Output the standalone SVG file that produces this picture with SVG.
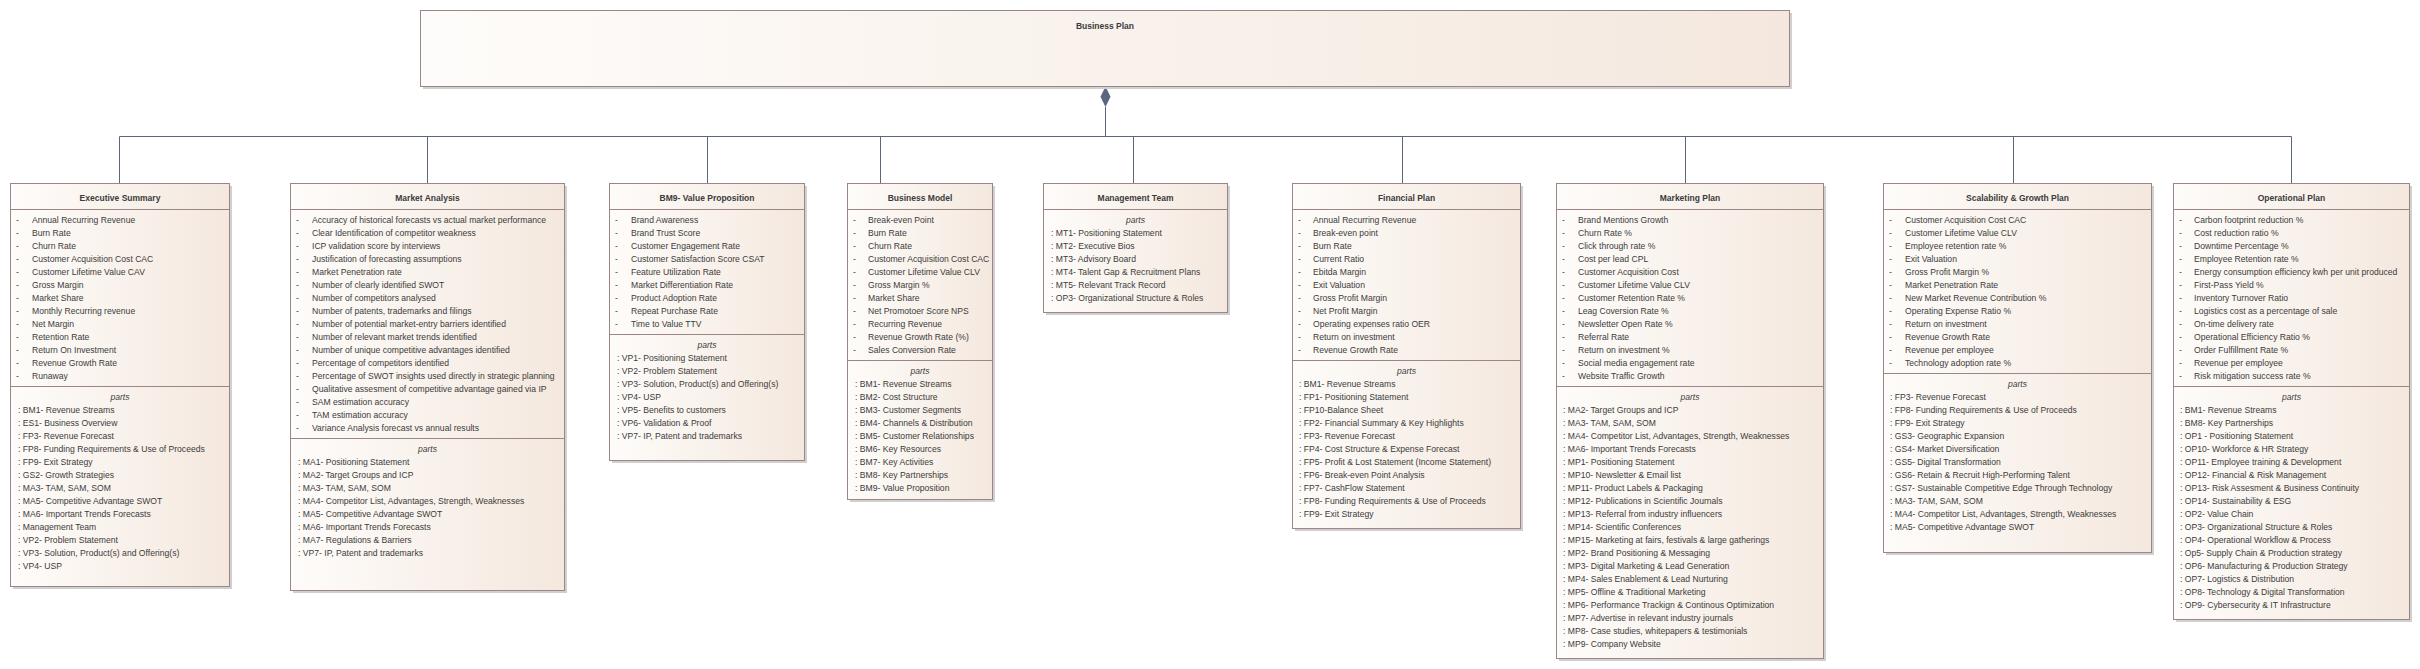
<svg xmlns="http://www.w3.org/2000/svg" width="2420" height="669" viewBox="0 0 2420 669">
<defs>
<linearGradient id="g" x1="0" y1="0" x2="1" y2="0">
<stop offset="0" stop-color="#fefcfa"/>
<stop offset="1" stop-color="#f4e8de"/>
</linearGradient>
</defs>
<style>
.box{fill:url(#g);stroke:#9c8585;stroke-width:1}
.sh{fill:#d0d0d0}
.sep{stroke:#9c8585;stroke-width:1}
.t{font-family:"Liberation Sans",Arial,sans-serif;font-size:8.6px;fill:#3b3b3b}
.h{font-weight:bold;text-anchor:middle;font-size:8.5px}
.p{font-style:italic;text-anchor:middle}
.c{stroke:#5b6680;stroke-width:1;fill:none}
.d{fill:#5b6680}
</style>
<rect width="2420" height="669" fill="#ffffff"/>

<g id="connectors">
<line class="c" x1="1105.5" y1="107" x2="1105.5" y2="136.5"/>
<line class="c" x1="119.5" y1="136.5" x2="2291.5" y2="136.5"/>
<line class="c" x1="119.5" y1="136.5" x2="119.5" y2="183"/>
<line class="c" x1="427.5" y1="136.5" x2="427.5" y2="183"/>
<line class="c" x1="707.5" y1="136.5" x2="707.5" y2="183"/>
<line class="c" x1="880.5" y1="136.5" x2="880.5" y2="183"/>
<line class="c" x1="1133.5" y1="136.5" x2="1133.5" y2="183"/>
<line class="c" x1="1402.5" y1="136.5" x2="1402.5" y2="183"/>
<line class="c" x1="1685.5" y1="136.5" x2="1685.5" y2="183"/>
<line class="c" x1="2013.5" y1="136.5" x2="2013.5" y2="183"/>
<line class="c" x1="2291.5" y1="136.5" x2="2291.5" y2="183"/>
<polygon class="d" points="1105.5,86.5 1110.5,96.8 1105.5,107 1100.5,96.8"/>
</g>

<g id="business-plan">
<rect class="sh" x="423" y="13" width="1369" height="76"/>
<rect class="box" x="420.5" y="10.5" width="1369" height="76"/>
<text class="t h" x="1105" y="29">Business Plan</text>
</g>

<g id="executive-summary">
<rect class="sh" x="13" y="186" width="219" height="403"/>
<rect class="box" x="10.5" y="183.5" width="219" height="403"/>
<line class="sep" x1="10.5" y1="209.5" x2="229.5" y2="209.5"/>
<line class="sep" x1="10.5" y1="386.5" x2="229.5" y2="386.5"/>
<text class="t h" x="120" y="201">Executive Summary</text>
<text class="t" y="223"><tspan x="16">-</tspan><tspan x="16" dy="13">-</tspan><tspan x="16" dy="13">-</tspan><tspan x="16" dy="13">-</tspan><tspan x="16" dy="13">-</tspan><tspan x="16" dy="13">-</tspan><tspan x="16" dy="13">-</tspan><tspan x="16" dy="13">-</tspan><tspan x="16" dy="13">-</tspan><tspan x="16" dy="13">-</tspan><tspan x="16" dy="13">-</tspan><tspan x="16" dy="13">-</tspan><tspan x="16" dy="13">-</tspan></text>
<text class="t" y="223"><tspan x="32">Annual Recurring Revenue</tspan><tspan x="32" dy="13">Burn Rate</tspan><tspan x="32" dy="13">Churn Rate</tspan><tspan x="32" dy="13">Customer Acquisition Cost CAC</tspan><tspan x="32" dy="13">Customer Lifetime Value CAV</tspan><tspan x="32" dy="13">Gross Margin</tspan><tspan x="32" dy="13">Market Share</tspan><tspan x="32" dy="13">Monthly Recurring revenue</tspan><tspan x="32" dy="13">Net Margin</tspan><tspan x="32" dy="13">Retention Rate</tspan><tspan x="32" dy="13">Return On Investment</tspan><tspan x="32" dy="13">Revenue Growth Rate</tspan><tspan x="32" dy="13">Runaway</tspan></text>
<text class="t p" x="120" y="400">parts</text>
<text class="t" y="413"><tspan x="18">: BM1- Revenue Streams</tspan><tspan x="18" dy="13">: ES1- Business Overview</tspan><tspan x="18" dy="13">: FP3- Revenue Forecast</tspan><tspan x="18" dy="13">: FP8- Funding Requirements &amp; Use of Proceeds</tspan><tspan x="18" dy="13">: FP9- Exit Strategy</tspan><tspan x="18" dy="13">: GS2- Growth Strategies</tspan><tspan x="18" dy="13">: MA3- TAM, SAM, SOM</tspan><tspan x="18" dy="13">: MA5- Competitive Advantage SWOT</tspan><tspan x="18" dy="13">: MA6- Important Trends Forecasts</tspan><tspan x="18" dy="13">: Management Team</tspan><tspan x="18" dy="13">: VP2- Problem Statement</tspan><tspan x="18" dy="13">: VP3- Solution, Product(s) and Offering(s)</tspan><tspan x="18" dy="13">: VP4- USP</tspan></text>
</g>

<g id="market-analysis">
<rect class="sh" x="293" y="186" width="274" height="407"/>
<rect class="box" x="290.5" y="183.5" width="274" height="407"/>
<line class="sep" x1="290.5" y1="209.5" x2="564.5" y2="209.5"/>
<line class="sep" x1="290.5" y1="438.5" x2="564.5" y2="438.5"/>
<text class="t h" x="427.5" y="201">Market Analysis</text>
<text class="t" y="223"><tspan x="296">-</tspan><tspan x="296" dy="13">-</tspan><tspan x="296" dy="13">-</tspan><tspan x="296" dy="13">-</tspan><tspan x="296" dy="13">-</tspan><tspan x="296" dy="13">-</tspan><tspan x="296" dy="13">-</tspan><tspan x="296" dy="13">-</tspan><tspan x="296" dy="13">-</tspan><tspan x="296" dy="13">-</tspan><tspan x="296" dy="13">-</tspan><tspan x="296" dy="13">-</tspan><tspan x="296" dy="13">-</tspan><tspan x="296" dy="13">-</tspan><tspan x="296" dy="13">-</tspan><tspan x="296" dy="13">-</tspan><tspan x="296" dy="13">-</tspan></text>
<text class="t" y="223"><tspan x="312">Accuracy of historical forecasts vs actual market performance</tspan><tspan x="312" dy="13">Clear Identification of competitor weakness</tspan><tspan x="312" dy="13">ICP validation score by interviews</tspan><tspan x="312" dy="13">Justification of forecasting assumptions</tspan><tspan x="312" dy="13">Market Penetration rate</tspan><tspan x="312" dy="13">Number of clearly identified SWOT</tspan><tspan x="312" dy="13">Number of competitors analysed</tspan><tspan x="312" dy="13">Number of patents, trademarks and filings</tspan><tspan x="312" dy="13">Number of potential market-entry barriers identified</tspan><tspan x="312" dy="13">Number of relevant market trends identified</tspan><tspan x="312" dy="13">Number of unique competitive advantages identified</tspan><tspan x="312" dy="13">Percentage of competitors identified</tspan><tspan x="312" dy="13">Percentage of SWOT insights used directly in strategic planning</tspan><tspan x="312" dy="13">Qualitative assesment of competitive advantage gained via IP</tspan><tspan x="312" dy="13">SAM estimation accuracy</tspan><tspan x="312" dy="13">TAM estimation accuracy</tspan><tspan x="312" dy="13">Variance Analysis forecast vs annual results</tspan></text>
<text class="t p" x="427.5" y="452">parts</text>
<text class="t" y="465"><tspan x="298">: MA1- Positioning Statement</tspan><tspan x="298" dy="13">: MA2- Target Groups and ICP</tspan><tspan x="298" dy="13">: MA3- TAM, SAM, SOM</tspan><tspan x="298" dy="13">: MA4- Competitor List, Advantages, Strength, Weaknesses</tspan><tspan x="298" dy="13">: MA5- Competitive Advantage SWOT</tspan><tspan x="298" dy="13">: MA6- Important Trends Forecasts</tspan><tspan x="298" dy="13">: MA7- Regulations &amp; Barriers</tspan><tspan x="298" dy="13">: VP7- IP, Patent and trademarks</tspan></text>
</g>

<g id="bm9-value-proposition">
<rect class="sh" x="612" y="186" width="195" height="277"/>
<rect class="box" x="609.5" y="183.5" width="195" height="277"/>
<line class="sep" x1="609.5" y1="209.5" x2="804.5" y2="209.5"/>
<line class="sep" x1="609.5" y1="334.5" x2="804.5" y2="334.5"/>
<text class="t h" x="707" y="201">BM9- Value Proposition</text>
<text class="t" y="223"><tspan x="615">-</tspan><tspan x="615" dy="13">-</tspan><tspan x="615" dy="13">-</tspan><tspan x="615" dy="13">-</tspan><tspan x="615" dy="13">-</tspan><tspan x="615" dy="13">-</tspan><tspan x="615" dy="13">-</tspan><tspan x="615" dy="13">-</tspan><tspan x="615" dy="13">-</tspan></text>
<text class="t" y="223"><tspan x="631">Brand Awareness</tspan><tspan x="631" dy="13">Brand Trust Score</tspan><tspan x="631" dy="13">Customer Engagement Rate</tspan><tspan x="631" dy="13">Customer Satisfaction Score CSAT</tspan><tspan x="631" dy="13">Feature Utilization Rate</tspan><tspan x="631" dy="13">Market Differentiation Rate</tspan><tspan x="631" dy="13">Product Adoption Rate</tspan><tspan x="631" dy="13">Repeat Purchase Rate</tspan><tspan x="631" dy="13">Time to Value TTV</tspan></text>
<text class="t p" x="707" y="348">parts</text>
<text class="t" y="361"><tspan x="617">: VP1- Positioning Statement</tspan><tspan x="617" dy="13">: VP2- Problem Statement</tspan><tspan x="617" dy="13">: VP3- Solution, Product(s) and Offering(s)</tspan><tspan x="617" dy="13">: VP4- USP</tspan><tspan x="617" dy="13">: VP5- Benefits to customers</tspan><tspan x="617" dy="13">: VP6- Validation &amp; Proof</tspan><tspan x="617" dy="13">: VP7- IP, Patent and trademarks</tspan></text>
</g>

<g id="business-model">
<rect class="sh" x="850" y="186" width="145" height="316"/>
<rect class="box" x="847.5" y="183.5" width="145" height="316"/>
<line class="sep" x1="847.5" y1="209.5" x2="992.5" y2="209.5"/>
<line class="sep" x1="847.5" y1="360.5" x2="992.5" y2="360.5"/>
<text class="t h" x="920" y="201">Business Model</text>
<text class="t" y="223"><tspan x="853">-</tspan><tspan x="853" dy="13">-</tspan><tspan x="853" dy="13">-</tspan><tspan x="853" dy="13">-</tspan><tspan x="853" dy="13">-</tspan><tspan x="853" dy="13">-</tspan><tspan x="853" dy="13">-</tspan><tspan x="853" dy="13">-</tspan><tspan x="853" dy="13">-</tspan><tspan x="853" dy="13">-</tspan><tspan x="853" dy="13">-</tspan></text>
<text class="t" y="223"><tspan x="868">Break-even Point</tspan><tspan x="868" dy="13">Burn Rate</tspan><tspan x="868" dy="13">Churn Rate</tspan><tspan x="868" dy="13">Customer Acquisition Cost CAC</tspan><tspan x="868" dy="13">Customer Lifetime Value CLV</tspan><tspan x="868" dy="13">Gross Margin %</tspan><tspan x="868" dy="13">Market Share</tspan><tspan x="868" dy="13">Net Promotoer Score NPS</tspan><tspan x="868" dy="13">Recurring Revenue</tspan><tspan x="868" dy="13">Revenue Growth Rate (%)</tspan><tspan x="868" dy="13">Sales Conversion Rate</tspan></text>
<text class="t p" x="920" y="374">parts</text>
<text class="t" y="387"><tspan x="855">: BM1- Revenue Streams</tspan><tspan x="855" dy="13">: BM2- Cost Structure</tspan><tspan x="855" dy="13">: BM3- Customer Segments</tspan><tspan x="855" dy="13">: BM4- Channels &amp; Distribution</tspan><tspan x="855" dy="13">: BM5- Customer Relationships</tspan><tspan x="855" dy="13">: BM6- Key Resources</tspan><tspan x="855" dy="13">: BM7- Key Activities</tspan><tspan x="855" dy="13">: BM8- Key Partnerships</tspan><tspan x="855" dy="13">: BM9- Value Proposition</tspan></text>
</g>

<g id="management-team">
<rect class="sh" x="1046" y="186" width="184" height="129"/>
<rect class="box" x="1043.5" y="183.5" width="184" height="129"/>
<line class="sep" x1="1043.5" y1="209.5" x2="1227.5" y2="209.5"/>
<text class="t h" x="1135.5" y="201">Management Team</text>
<text class="t p" x="1135.5" y="223">parts</text>
<text class="t" y="236"><tspan x="1051">: MT1- Positioning Statement</tspan><tspan x="1051" dy="13">: MT2- Executive Bios</tspan><tspan x="1051" dy="13">: MT3- Advisory Board</tspan><tspan x="1051" dy="13">: MT4- Talent Gap &amp; Recruitment Plans</tspan><tspan x="1051" dy="13">: MT5- Relevant Track Record</tspan><tspan x="1051" dy="13">: OP3- Organizational Structure &amp; Roles</tspan></text>
</g>

<g id="financial-plan">
<rect class="sh" x="1295" y="186" width="228" height="345"/>
<rect class="box" x="1292.5" y="183.5" width="228" height="345"/>
<line class="sep" x1="1292.5" y1="209.5" x2="1520.5" y2="209.5"/>
<line class="sep" x1="1292.5" y1="360.5" x2="1520.5" y2="360.5"/>
<text class="t h" x="1406.5" y="201">Financial Plan</text>
<text class="t" y="223"><tspan x="1298">-</tspan><tspan x="1298" dy="13">-</tspan><tspan x="1298" dy="13">-</tspan><tspan x="1298" dy="13">-</tspan><tspan x="1298" dy="13">-</tspan><tspan x="1298" dy="13">-</tspan><tspan x="1298" dy="13">-</tspan><tspan x="1298" dy="13">-</tspan><tspan x="1298" dy="13">-</tspan><tspan x="1298" dy="13">-</tspan><tspan x="1298" dy="13">-</tspan></text>
<text class="t" y="223"><tspan x="1313">Annual Recurring Revenue</tspan><tspan x="1313" dy="13">Break-even point</tspan><tspan x="1313" dy="13">Burn Rate</tspan><tspan x="1313" dy="13">Current Ratio</tspan><tspan x="1313" dy="13">Ebitda Margin</tspan><tspan x="1313" dy="13">Exit Valuation</tspan><tspan x="1313" dy="13">Gross Profit Margin</tspan><tspan x="1313" dy="13">Net Profit Margin</tspan><tspan x="1313" dy="13">Operating expenses ratio OER</tspan><tspan x="1313" dy="13">Return on investment</tspan><tspan x="1313" dy="13">Revenue Growth Rate</tspan></text>
<text class="t p" x="1406.5" y="374">parts</text>
<text class="t" y="387"><tspan x="1299">: BM1- Revenue Streams</tspan><tspan x="1299" dy="13">: FP1- Positioning Statement</tspan><tspan x="1299" dy="13">: FP10-Balance Sheet</tspan><tspan x="1299" dy="13">: FP2- Financial Summary &amp; Key Highlights</tspan><tspan x="1299" dy="13">: FP3- Revenue Forecast</tspan><tspan x="1299" dy="13">: FP4- Cost Structure &amp; Expense Forecast</tspan><tspan x="1299" dy="13">: FP5- Profit &amp; Lost Statement (Income Statement)</tspan><tspan x="1299" dy="13">: FP6- Break-even Point Analysis</tspan><tspan x="1299" dy="13">: FP7- CashFlow Statement</tspan><tspan x="1299" dy="13">: FP8- Funding Requirements &amp; Use of Proceeds</tspan><tspan x="1299" dy="13">: FP9- Exit Strategy</tspan></text>
</g>

<g id="marketing-plan">
<rect class="sh" x="1559" y="186" width="267" height="475"/>
<rect class="box" x="1556.5" y="183.5" width="267" height="475"/>
<line class="sep" x1="1556.5" y1="209.5" x2="1823.5" y2="209.5"/>
<line class="sep" x1="1556.5" y1="386.5" x2="1823.5" y2="386.5"/>
<text class="t h" x="1690" y="201">Marketing Plan</text>
<text class="t" y="223"><tspan x="1562">-</tspan><tspan x="1562" dy="13">-</tspan><tspan x="1562" dy="13">-</tspan><tspan x="1562" dy="13">-</tspan><tspan x="1562" dy="13">-</tspan><tspan x="1562" dy="13">-</tspan><tspan x="1562" dy="13">-</tspan><tspan x="1562" dy="13">-</tspan><tspan x="1562" dy="13">-</tspan><tspan x="1562" dy="13">-</tspan><tspan x="1562" dy="13">-</tspan><tspan x="1562" dy="13">-</tspan><tspan x="1562" dy="13">-</tspan></text>
<text class="t" y="223"><tspan x="1578">Brand Mentions Growth</tspan><tspan x="1578" dy="13">Churn Rate %</tspan><tspan x="1578" dy="13">Click through rate %</tspan><tspan x="1578" dy="13">Cost per lead CPL</tspan><tspan x="1578" dy="13">Customer Acquisition Cost</tspan><tspan x="1578" dy="13">Customer Lifetime Value CLV</tspan><tspan x="1578" dy="13">Customer Retention Rate %</tspan><tspan x="1578" dy="13">Leag Coversion Rate %</tspan><tspan x="1578" dy="13">Newsletter Open Rate %</tspan><tspan x="1578" dy="13">Referral Rate</tspan><tspan x="1578" dy="13">Return on investment %</tspan><tspan x="1578" dy="13">Social media engagement rate</tspan><tspan x="1578" dy="13">Website Traffic Growth</tspan></text>
<text class="t p" x="1690" y="400">parts</text>
<text class="t" y="413"><tspan x="1563">: MA2- Target Groups and ICP</tspan><tspan x="1563" dy="13">: MA3- TAM, SAM, SOM</tspan><tspan x="1563" dy="13">: MA4- Competitor List, Advantages, Strength, Weaknesses</tspan><tspan x="1563" dy="13">: MA6- Important Trends Forecasts</tspan><tspan x="1563" dy="13">: MP1- Positioning Statement</tspan><tspan x="1563" dy="13">: MP10- Newsletter &amp; Email list</tspan><tspan x="1563" dy="13">: MP11- Product Labels &amp; Packaging</tspan><tspan x="1563" dy="13">: MP12- Publications in Scientific Journals</tspan><tspan x="1563" dy="13">: MP13- Referral from industry influencers</tspan><tspan x="1563" dy="13">: MP14- Scientific Conferences</tspan><tspan x="1563" dy="13">: MP15- Marketing at fairs, festivals &amp; large gatherings</tspan><tspan x="1563" dy="13">: MP2- Brand Positioning &amp; Messaging</tspan><tspan x="1563" dy="13">: MP3- Digital Marketing &amp; Lead Generation</tspan><tspan x="1563" dy="13">: MP4- Sales Enablement &amp; Lead Nurturing</tspan><tspan x="1563" dy="13">: MP5- Offline &amp; Traditional Marketing</tspan><tspan x="1563" dy="13">: MP6- Performance Trackign &amp; Continous Optimization</tspan><tspan x="1563" dy="13">: MP7- Advertise in relevant industry journals</tspan><tspan x="1563" dy="13">: MP8- Case studies, whitepapers &amp; testimonials</tspan><tspan x="1563" dy="13">: MP9- Company Website</tspan></text>
</g>

<g id="scalability-growth-plan">
<rect class="sh" x="1886" y="186" width="268" height="369"/>
<rect class="box" x="1883.5" y="183.5" width="268" height="369"/>
<line class="sep" x1="1883.5" y1="209.5" x2="2151.5" y2="209.5"/>
<line class="sep" x1="1883.5" y1="373.5" x2="2151.5" y2="373.5"/>
<text class="t h" x="2017.5" y="201">Scalability &amp; Growth Plan</text>
<text class="t" y="223"><tspan x="1889">-</tspan><tspan x="1889" dy="13">-</tspan><tspan x="1889" dy="13">-</tspan><tspan x="1889" dy="13">-</tspan><tspan x="1889" dy="13">-</tspan><tspan x="1889" dy="13">-</tspan><tspan x="1889" dy="13">-</tspan><tspan x="1889" dy="13">-</tspan><tspan x="1889" dy="13">-</tspan><tspan x="1889" dy="13">-</tspan><tspan x="1889" dy="13">-</tspan><tspan x="1889" dy="13">-</tspan></text>
<text class="t" y="223"><tspan x="1905">Customer Acquisition Cost CAC</tspan><tspan x="1905" dy="13">Customer Lifetime Value CLV</tspan><tspan x="1905" dy="13">Employee retention rate %</tspan><tspan x="1905" dy="13">Exit Valuation</tspan><tspan x="1905" dy="13">Gross Profit Margin %</tspan><tspan x="1905" dy="13">Market Penetration Rate</tspan><tspan x="1905" dy="13">New Market Revenue Contribution %</tspan><tspan x="1905" dy="13">Operating Expense Ratio %</tspan><tspan x="1905" dy="13">Return on investment</tspan><tspan x="1905" dy="13">Revenue Growth Rate</tspan><tspan x="1905" dy="13">Revenue per employee</tspan><tspan x="1905" dy="13">Technology adoption rate %</tspan></text>
<text class="t p" x="2017.5" y="387">parts</text>
<text class="t" y="400"><tspan x="1890">: FP3- Revenue Forecast</tspan><tspan x="1890" dy="13">: FP8- Funding Requirements &amp; Use of Proceeds</tspan><tspan x="1890" dy="13">: FP9- Exit Strategy</tspan><tspan x="1890" dy="13">: GS3- Geographic Expansion</tspan><tspan x="1890" dy="13">: GS4- Market Diversification</tspan><tspan x="1890" dy="13">: GS5- Digital Transformation</tspan><tspan x="1890" dy="13">: GS6- Retain &amp; Recruit High-Performing Talent</tspan><tspan x="1890" dy="13">: GS7- Sustainable Competitive Edge Through Technology</tspan><tspan x="1890" dy="13">: MA3- TAM, SAM, SOM</tspan><tspan x="1890" dy="13">: MA4- Competitor List, Advantages, Strength, Weaknesses</tspan><tspan x="1890" dy="13">: MA5- Competitive Advantage SWOT</tspan></text>
</g>

<g id="operational-plan">
<rect class="sh" x="2176" y="186" width="236" height="436"/>
<rect class="box" x="2173.5" y="183.5" width="236" height="436"/>
<line class="sep" x1="2173.5" y1="209.5" x2="2409.5" y2="209.5"/>
<line class="sep" x1="2173.5" y1="386.5" x2="2409.5" y2="386.5"/>
<text class="t h" x="2291.5" y="201">Operational Plan</text>
<text class="t" y="223"><tspan x="2179">-</tspan><tspan x="2179" dy="13">-</tspan><tspan x="2179" dy="13">-</tspan><tspan x="2179" dy="13">-</tspan><tspan x="2179" dy="13">-</tspan><tspan x="2179" dy="13">-</tspan><tspan x="2179" dy="13">-</tspan><tspan x="2179" dy="13">-</tspan><tspan x="2179" dy="13">-</tspan><tspan x="2179" dy="13">-</tspan><tspan x="2179" dy="13">-</tspan><tspan x="2179" dy="13">-</tspan><tspan x="2179" dy="13">-</tspan></text>
<text class="t" y="223"><tspan x="2194">Carbon footprint reduction %</tspan><tspan x="2194" dy="13">Cost reduction ratio %</tspan><tspan x="2194" dy="13">Downtime Percentage %</tspan><tspan x="2194" dy="13">Employee Retention rate %</tspan><tspan x="2194" dy="13">Energy consumption efficiency kwh per unit produced</tspan><tspan x="2194" dy="13">First-Pass Yield %</tspan><tspan x="2194" dy="13">Inventory Turnover Ratio</tspan><tspan x="2194" dy="13">Logistics cost as a percentage of sale</tspan><tspan x="2194" dy="13">On-time delivery rate</tspan><tspan x="2194" dy="13">Operational Efficiency Ratio %</tspan><tspan x="2194" dy="13">Order Fulfillment Rate %</tspan><tspan x="2194" dy="13">Revenue per employee</tspan><tspan x="2194" dy="13">Risk mitigation success rate %</tspan></text>
<text class="t p" x="2291.5" y="400">parts</text>
<text class="t" y="413"><tspan x="2180">: BM1- Revenue Streams</tspan><tspan x="2180" dy="13">: BM8- Key Partnerships</tspan><tspan x="2180" dy="13">: OP1 - Positioning Statement</tspan><tspan x="2180" dy="13">: OP10- Workforce &amp; HR Strategy</tspan><tspan x="2180" dy="13">: OP11- Employee training &amp; Development</tspan><tspan x="2180" dy="13">: OP12- Financial &amp; Risk Management</tspan><tspan x="2180" dy="13">: OP13- Risk Assesment &amp; Business Continuity</tspan><tspan x="2180" dy="13">: OP14- Sustainability &amp; ESG</tspan><tspan x="2180" dy="13">: OP2- Value Chain</tspan><tspan x="2180" dy="13">: OP3- Organizational Structure &amp; Roles</tspan><tspan x="2180" dy="13">: OP4- Operational Workflow &amp; Process</tspan><tspan x="2180" dy="13">: Op5- Supply Chain &amp; Production strategy</tspan><tspan x="2180" dy="13">: OP6- Manufacturing &amp; Production Strategy</tspan><tspan x="2180" dy="13">: OP7- Logistics &amp; Distribution</tspan><tspan x="2180" dy="13">: OP8- Technology &amp; Digital Transformation</tspan><tspan x="2180" dy="13">: OP9- Cybersecurity &amp; IT Infrastructure</tspan></text>
</g>
</svg>
